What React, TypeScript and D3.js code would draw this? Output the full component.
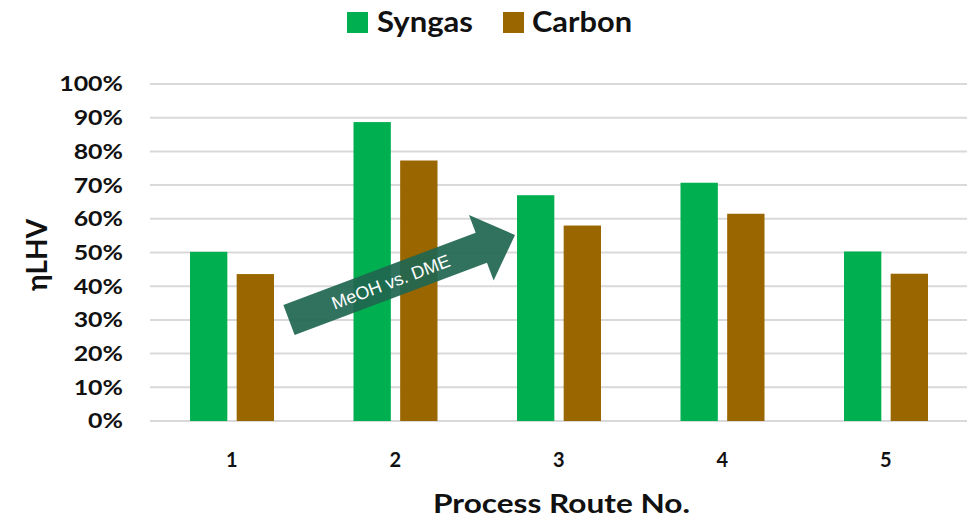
import React from "react";
import * as d3 from "d3";

const categories = ["1", "2", "3", "4", "5"];
const seriesNames = ["Syngas", "Carbon"];
const syngas = [50.2, 88.7, 67.0, 70.7, 50.3];
const carbon = [43.6, 77.3, 58.0, 61.5, 43.7];
const yTicks = [0, 10, 20, 30, 40, 50, 60, 70, 80, 90, 100];
const colors = ["#00B050", "#996600"];
const arrowLabel = "MeOH vs. DME";

const W = 975;
const H = 519;
const FONT = "Lato, 'Open Sans', sans-serif";

export default function App() {
  const x = d3.scaleBand<string>().domain(categories).range([150, 967.5]).paddingInner(0);
  const xi = d3.scaleBand<string>().domain(seriesNames).range([40, 124]).paddingInner(0.2);
  const y = d3.scaleLinear().domain([0, 100]).range([421, 84]);
  const values = [syngas, carbon];

  // arrow geometry (local coords along arrow direction)
  const tail = [289, 320];
  const tip = [515, 235];
  const dx = tip[0] - tail[0];
  const dy = tip[1] - tail[1];
  const L = Math.sqrt(dx * dx + dy * dy);
  const ang = (Math.atan2(dy, dx) * 180) / Math.PI;
  const sw = 16;
  const hw = 35;
  const hl = 36;
  const arrowPts = [
    [0, -sw], [L - hl, -sw], [L - hl, -hw], [L, 0], [L - hl, hw], [L - hl, sw], [0, sw],
  ].map((p) => p.join(",")).join(" ");

  return (
    <svg width={W} height={H} style={{ position: "absolute", left: 0, top: 0, background: "#fff" }}>
      {/* legend */}
      <g fontFamily={FONT} fontWeight={700} fontSize={28} fill="#111">
        <rect x={347} y={12} width={21} height={21} fill={colors[0]} />
        <text x={377} y={32} textLength={96} lengthAdjust="spacingAndGlyphs">Syngas</text>
        <rect x={503} y={12} width={21} height={21} fill={colors[1]} />
        <text x={532} y={32} textLength={100} lengthAdjust="spacingAndGlyphs">Carbon</text>
      </g>
      {/* gridlines */}
      <g>
        {yTicks.map((t) => (
          <line key={t} x1={150} x2={967} y1={y(t)} y2={y(t)} stroke="#d9d9d9" strokeWidth={2} />
        ))}
      </g>
      {/* y tick labels */}
      <g transform="translate(123,0) scale(1.16,1)" fontFamily={FONT} fontWeight={700} fontSize={21.5} fill="#111" textAnchor="end">
        {yTicks.map((t) => (
          <text key={t} x={0} y={y(t) + 7.5}>{t}%</text>
        ))}
      </g>
      {/* bars */}
      <g>
        {categories.map((c, i) => (
          <g key={c}>
            {seriesNames.map((s, j) => (
              <rect
                key={s}
                x={(x(c) as number) + (xi(s) as number)}
                width={xi.bandwidth()}
                y={y(values[j][i])}
                height={y(0) - y(values[j][i])}
                fill={colors[j]}
              />
            ))}
          </g>
        ))}
      </g>
      {/* x labels */}
      <g fontFamily={FONT} fontWeight={700} fontSize={20} fill="#111" textAnchor="middle">
        {categories.map((c) => (
          <text key={c} x={(x(c) as number) + x.bandwidth() / 2} y={467}>{c}</text>
        ))}
      </g>
      {/* axis titles */}
      <text
        fontFamily={FONT}
        fontWeight={700}
        fontSize={28}
        fill="#111"
        textAnchor="middle"
        transform={`translate(47,255) rotate(-90)`}
      >
        ηLHV
      </text>
      <text
        fontFamily={FONT}
        fontWeight={700}
        fontSize={27}
        fill="#111"
        x={433}
        y={513}
        textLength={257}
        lengthAdjust="spacingAndGlyphs"
      >
        Process Route No.
      </text>
      {/* arrow */}
      <g transform={`translate(${tail[0]},${tail[1]}) rotate(${ang})`}>
        <polygon points={arrowPts} fill="#1f6650" fillOpacity={0.92} />
        <text
          x={(L - hl) / 2 + 6}
          y={6.5}
          textAnchor="middle"
          fontFamily="'Liberation Sans', Arial, sans-serif"
          fontSize={18}
          fill="#fff"
        >
          {arrowLabel}
        </text>
      </g>
    </svg>
  );
}
